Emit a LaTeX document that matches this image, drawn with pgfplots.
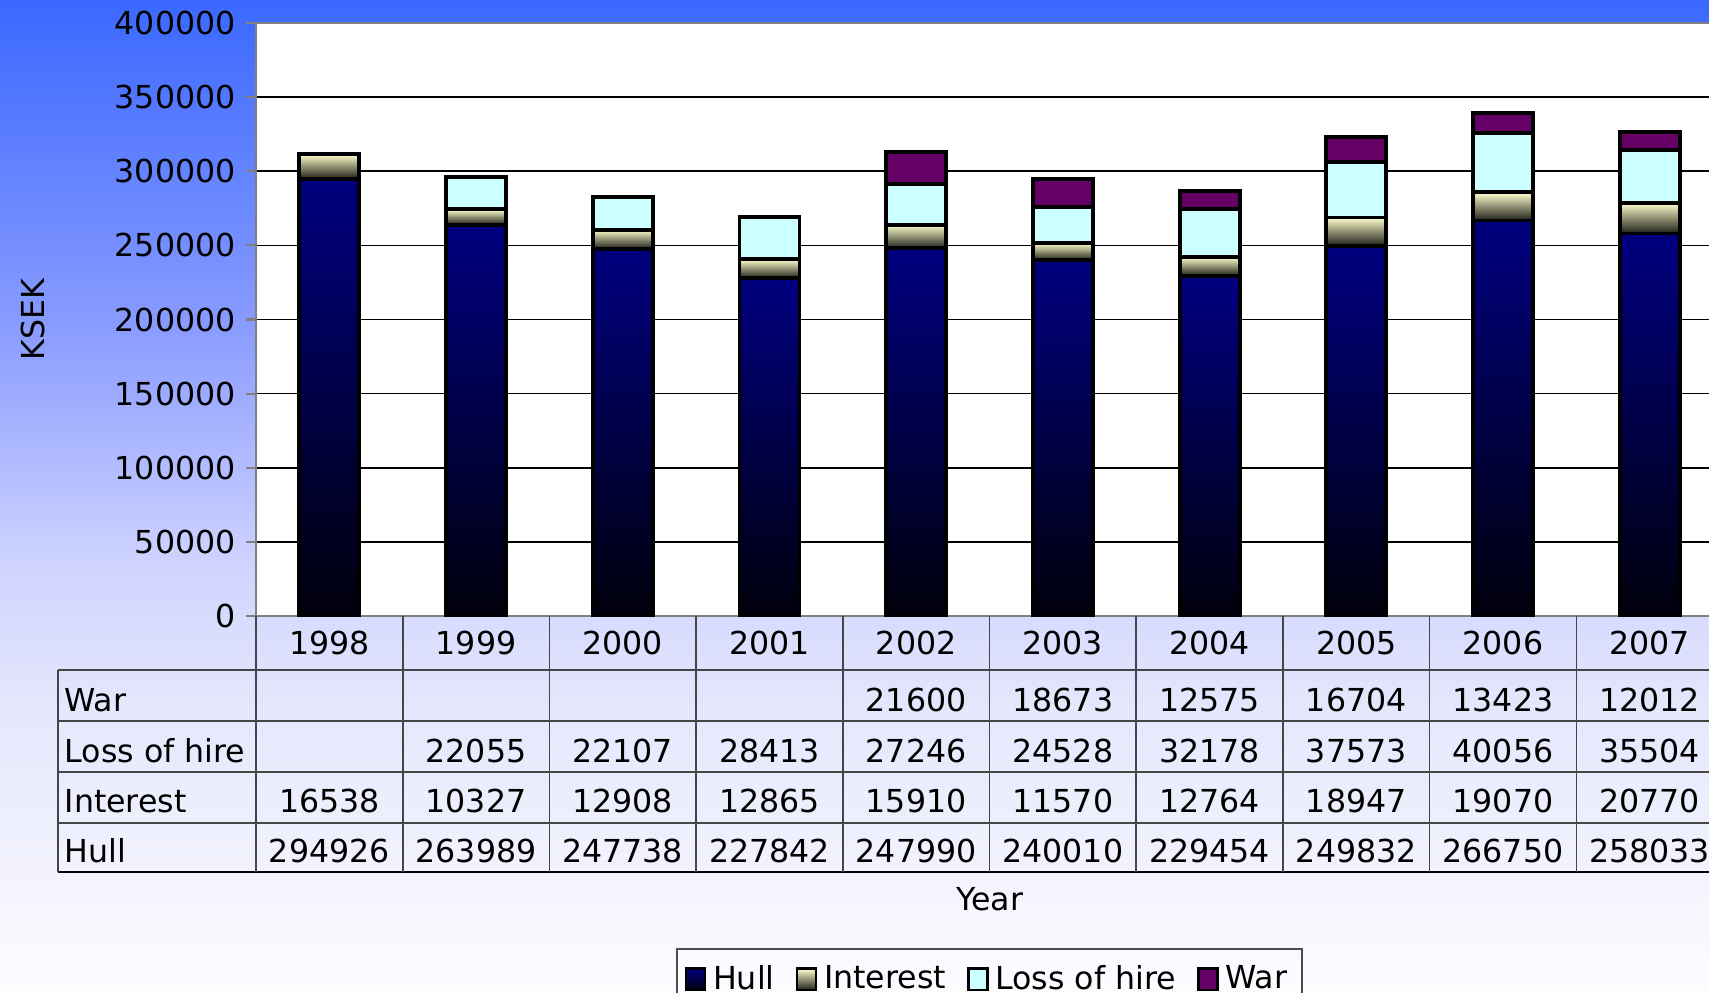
\documentclass[border=0pt]{standalone}
\usepackage{pgfplots}
\pgfplotsset{compat=1.18}
\usepackage{pgfplotstable}
\usepackage{fontspec}
\setmainfont{DejaVu Sans}

\definecolor{bgA}{RGB}{58,104,255}
\definecolor{bgB}{RGB}{138,156,255}
\definecolor{bgC}{RGB}{207,212,255}
\definecolor{bgD}{RGB}{228,230,252}
\definecolor{bgE}{RGB}{252,252,255}
\definecolor{hullTop}{RGB}{0,0,128}
\definecolor{hullMid}{RGB}{0,0,116}
\definecolor{hullBot}{RGB}{0,0,12}
\definecolor{intTop}{RGB}{255,255,204}
\definecolor{intMid}{RGB}{215,215,172}
\definecolor{intBot}{RGB}{30,30,24}
\definecolor{lossCol}{RGB}{204,255,255}
\definecolor{warCol}{RGB}{102,0,102}
\definecolor{gridgray}{RGB}{128,128,128}
\definecolor{tabline}{RGB}{70,70,70}

\pgfplotstableread{
x year hull interest loss war
0 1998 294926 16538 0 0
1 1999 263989 10327 22055 0
2 2000 247738 12908 22107 0
3 2001 227842 12865 28413 0
4 2002 247990 15910 27246 21600
5 2003 240010 11570 24528 18673
6 2004 229454 12764 32178 12575
7 2005 249832 18947 37573 16704
8 2006 266750 19070 40056 13423
9 2007 258033 20770 35504 12012
}\datatable

\pgfplotsset{
  commonax/.style={
    at={(25.6mm,37.6mm)}, anchor=south west,
    scale only axis, width=146.7mm, height=59.3mm,
    xmin=-0.5, xmax=9.5, ymin=0, ymax=400000,
    ybar stacked, bar width=6mm,
  },
  hullstyle/.style={draw=black, line width=1.1pt, top color=hullTop, middle color=hullMid, bottom color=hullBot},
  intstyle/.style={draw=black, line width=1.1pt, top color=intTop, middle color=intMid, bottom color=intBot},
  lossstyle/.style={draw=black, line width=1.1pt, fill=lossCol},
  warstyle/.style={draw=black, line width=1.1pt, fill=warCol},
}

\begin{document}
\begin{tikzpicture}[font=\fontsize{9pt}{11pt}\selectfont]
% background gradient (bands)
\shade[top color=bgA, bottom color=bgB] (0mm,99.2mm) rectangle (170.9mm,66.1mm);
\shade[top color=bgB, bottom color=bgC] (0mm,66.2mm) rectangle (170.9mm,42.6mm);
\shade[top color=bgC, bottom color=bgD] (0mm,42.7mm) rectangle (170.9mm,29.1mm);
\shade[top color=bgD, bottom color=bgE] (0mm,29.2mm) rectangle (170.9mm,0mm);

% main axis: frame, grid, ticks, labels, legend and the 1998 bar
\begin{axis}[
  commonax,
  axis background/.style={fill=white},
  axis line style={draw=gridgray, line width=0.6pt},
  xtick={0,1,2,3,4,5,6,7,8,9},
  xticklabels from table={\datatable}{year},
  x tick style={draw=none},
  xticklabel style={anchor=base, yshift=-2.8mm},
  ytick={0,50000,100000,150000,200000,250000,300000,350000,400000},
  scaled y ticks=false,
  yticklabel style={/pgf/number format/fixed, /pgf/number format/1000 sep={}, /pgf/number format/assume math mode=true, anchor=east, xshift=0.2mm},
  y tick style={draw=gridgray, line width=0.6pt},
  tick align=outside,
  major tick length=1mm,
  ymajorgrids,
  major grid style={black, line width=0.45pt},
  ylabel={KSEK},
  ylabel style={at={(axis description cs:-0.152,0.5)}, anchor=center},
  xlabel={Year},
  xlabel style={at={(axis description cs:0.5,-0.477)}, anchor=center},
  legend columns=4,
  legend style={at={(axis description cs:0.5,-0.56)}, anchor=north, draw=black!70, fill=none, line width=0.5pt,
    inner xsep=0.8mm, inner ysep=0.9mm,
    /tikz/every even column/.append style={column sep=1.4mm}},
  legend image code/.code={\draw[#1, line width=0.7pt] (0mm,-1.05mm) rectangle (1.9mm,1.1mm);},
]
\addplot[hullstyle, skip coords between index={1}{10}] table[x=x, y=hull] {\datatable};
\addplot[intstyle, skip coords between index={1}{10}] table[x=x, y=interest] {\datatable};
\addplot[lossstyle, skip coords between index={1}{10}] table[x=x, y=loss] {\datatable};
\addplot[warstyle, skip coords between index={1}{10}] table[x=x, y=war] {\datatable};
\legend{Hull, Interest, Loss of hire, War}
\end{axis}

% one overlaid axis per further year, so that each bar gets its own shading
\pgfplotsinvokeforeach{1,2,3,4,5,6,7,8,9}{
  \pgfmathtruncatemacro\nexti{#1+1}
  \begin{axis}[commonax, hide axis]
  \addplot[hullstyle, skip coords between index={0}{#1}, skip coords between index={\nexti}{10}] table[x=x, y=hull] {\datatable};
  \addplot[intstyle, skip coords between index={0}{#1}, skip coords between index={\nexti}{10}] table[x=x, y=interest] {\datatable};
  \addplot[lossstyle, skip coords between index={0}{#1}, skip coords between index={\nexti}{10}] table[x=x, y=loss] {\datatable};
  \addplot[warstyle, skip coords between index={0}{#1}, skip coords between index={\nexti}{10}] table[x=x, y=war] {\datatable};
  \end{axis}
}

% data table below the axis (pixel coordinates, y downward)
\begin{scope}[shift={(0mm,99.2mm)}, x=0.1mm, y=-0.1mm]
  \draw[tabline, line width=0.45pt] (58,670) -- (1740,670);
  \draw[tabline, line width=0.45pt] (58,721) -- (1740,721);
  \draw[tabline, line width=0.45pt] (58,772) -- (1740,772);
  \draw[tabline, line width=0.45pt] (58,823) -- (1740,823);
  \draw[black, line width=0.55pt] (58,872) -- (1740,872);
  \draw[tabline, line width=0.45pt] (58,670) -- (58,872);
  \foreach \k in {0,...,10} {
    \draw[tabline, line width=0.45pt] ({256+\k*146.7},616) -- ({256+\k*146.7},872);
  }
  \node[anchor=base west, inner sep=0pt] at (64,711) {War};
  \node[anchor=base west, inner sep=0pt] at (64,762) {Loss of hire};
  \node[anchor=base west, inner sep=0pt] at (64,812) {Interest};
  \node[anchor=base west, inner sep=0pt] at (64,862) {Hull};
  \foreach \i in {0,...,9} {
    \pgfmathsetmacro{\cx}{256+(\i+0.5)*146.7}
    \pgfplotstablegetelem{\i}{war}\of\datatable
    \ifnum\pgfplotsretval>0 \node[anchor=base, inner sep=0pt] at (\cx,711) {\pgfplotsretval};\fi
    \pgfplotstablegetelem{\i}{loss}\of\datatable
    \ifnum\pgfplotsretval>0 \node[anchor=base, inner sep=0pt] at (\cx,762) {\pgfplotsretval};\fi
    \pgfplotstablegetelem{\i}{interest}\of\datatable
    \node[anchor=base, inner sep=0pt] at (\cx,812) {\pgfplotsretval};
    \pgfplotstablegetelem{\i}{hull}\of\datatable
    \node[anchor=base, inner sep=0pt] at (\cx,862) {\pgfplotsretval};
  }
\end{scope}

\pgfresetboundingbox
\path[use as bounding box] (0mm,0mm) rectangle (170.9mm,99.2mm);
\end{tikzpicture}
\end{document}
